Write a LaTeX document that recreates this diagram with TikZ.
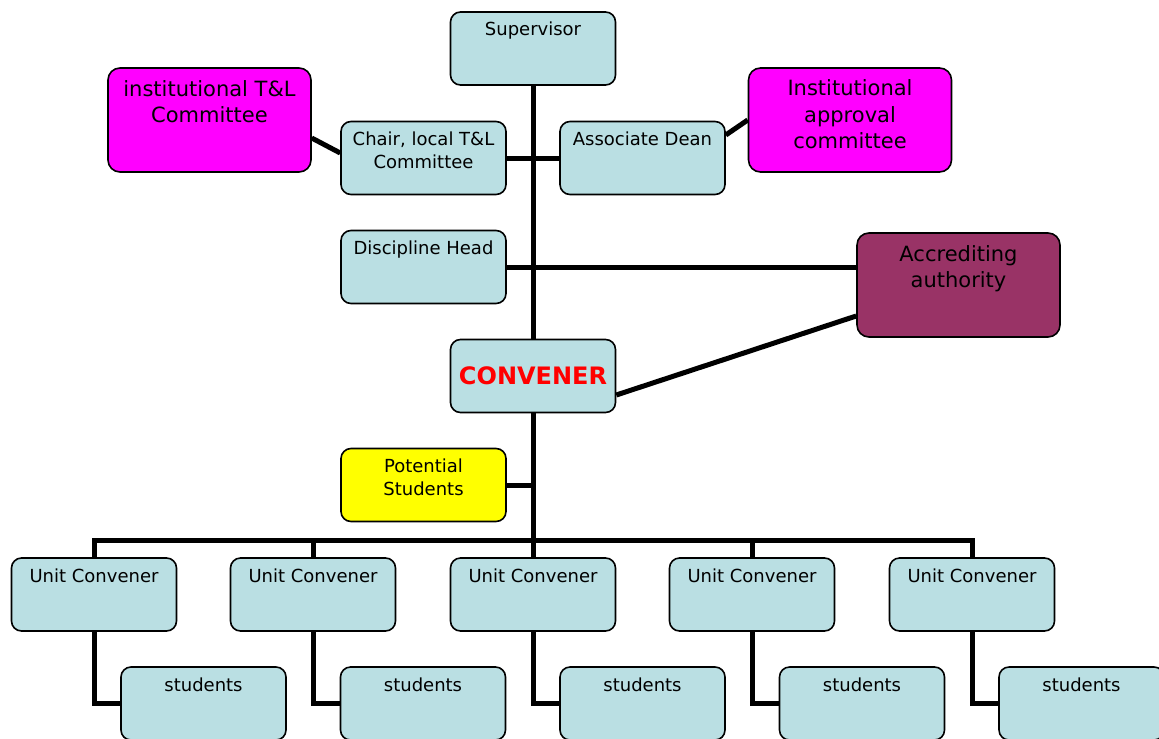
\documentclass[tikz,border=0pt]{standalone}
\usepackage{fontspec}
\setmainfont{DejaVu Sans}
\usepackage{tikz}
\usetikzlibrary{calc}
\usepackage{xcolor}
\definecolor{boxblue}{RGB}{186,223,227}
\definecolor{accpurple}{RGB}{153,51,102}
\definecolor{brightmagenta}{RGB}{255,0,255}
\definecolor{brightyellow}{RGB}{255,255,0}
\tikzset{
  unitbox/.style = {draw, thick, rounded corners=5pt, fill=boxblue,
                    minimum width=82.5pt, inner ysep=5pt, text height=7pt,
                    text depth=19.5pt, align=center,
                    font=\fontsize{9}{11.5}\selectfont},
  twolines/.style = {text height=18.5pt, text depth=8pt},
  midbox/.style  = {draw, thick, rounded corners=5pt, fill=boxblue,
                    minimum width=82.5pt, minimum height=36.5pt, align=center,
                    font=\fontsize{9}{11.5}\selectfont},
  bigbox/.style  = {draw, thick, rounded corners=6pt,
                    minimum width=101.5pt, inner ysep=6pt, text height=8pt,
                    text depth=32pt, align=center,
                    font=\fontsize{10.5}{13}\selectfont},
  bigtwo/.style  = {text height=21pt, text depth=19pt},
  bigthree/.style = {text height=34pt, text depth=6pt},
  link/.style    = {line width=2.5pt},
}

\begin{document}
\begin{tikzpicture}[x=0.5pt,y=-0.5pt]
\useasboundingbox (0,0) rectangle (1159,738);
\node[unitbox] (sup) at (533,48.5) {Supervisor};
\node[bigbox,bigtwo,fill=brightmagenta] (itl) at (209.5,120) {institutional T\&L\\Committee};
\node[unitbox,twolines] (chair) at (423.5,158) {Chair, local T\&L\\Committee};
\node[unitbox] (dean) at (642.5,158) {Associate Dean};
\node[bigbox,bigthree,fill=brightmagenta] (appr) at (850,120) {Institutional\\approval\\committee};
\node[unitbox] (disc) at (423.5,267) {Discipline Head};
\node[bigbox,bigtwo,fill=accpurple] (accr) at (958.5,285) {Accrediting\\authority};
\node[midbox,font=\fontsize{12}{14}\selectfont\bfseries,text=red] (conv) at (533,376) {CONVENER};
\node[unitbox,twolines,fill=brightyellow] (pot) at (423.5,485) {Potential\\Students};
\coordinate (bus) at (533,540);
\node[unitbox] (uc1) at (94,594.5) {Unit Convener};
\node[unitbox] (uc2) at (313,594.5) {Unit Convener};
\node[unitbox] (uc3) at (533,594.5) {Unit Convener};
\node[unitbox] (uc4) at (752,594.5) {Unit Convener};
\node[unitbox] (uc5) at (972,594.5) {Unit Convener};
\node[unitbox] (st1) at (203.5,703.5) {students};
\node[unitbox] (st2) at (423,703.5) {students};
\node[unitbox] (st3) at (642.5,703.5) {students};
\node[unitbox] (st4) at (862,703.5) {students};
\node[unitbox] (st5) at (1081.5,703.5) {students};
\draw[link] (sup.south) -- (conv.north);
\draw[link] (conv.south) -- (bus);
\draw[link] (chair.east) -- (dean.west);
\draw[link] (itl.-10) -- ([yshift=2.5pt]chair.west);
\draw[link] ([yshift=11.5pt]dean.east) -- (appr.west);
\draw[link] (disc.east) -- (disc.east -| accr.west);
\draw[link] ([yshift=-9.5pt]conv.east) -- ([yshift=-15.5pt]accr.west);
\draw[link] (pot.east) -- (pot.east -| bus);
\draw[link] (uc1.north) |- (bus) -| (uc5.north);
\draw[link] (uc2.north) -- (uc2.north |- bus);
\draw[link] (uc3.north) -- (bus);
\draw[link] (uc4.north) -- (uc4.north |- bus);
\draw[link] (uc1.south) |- (st1.west);
\draw[link] (uc2.south) |- (st2.west);
\draw[link] (uc3.south) |- (st3.west);
\draw[link] (uc4.south) |- (st4.west);
\draw[link] (uc5.south) |- (st5.west);
\end{tikzpicture}
\end{document}
